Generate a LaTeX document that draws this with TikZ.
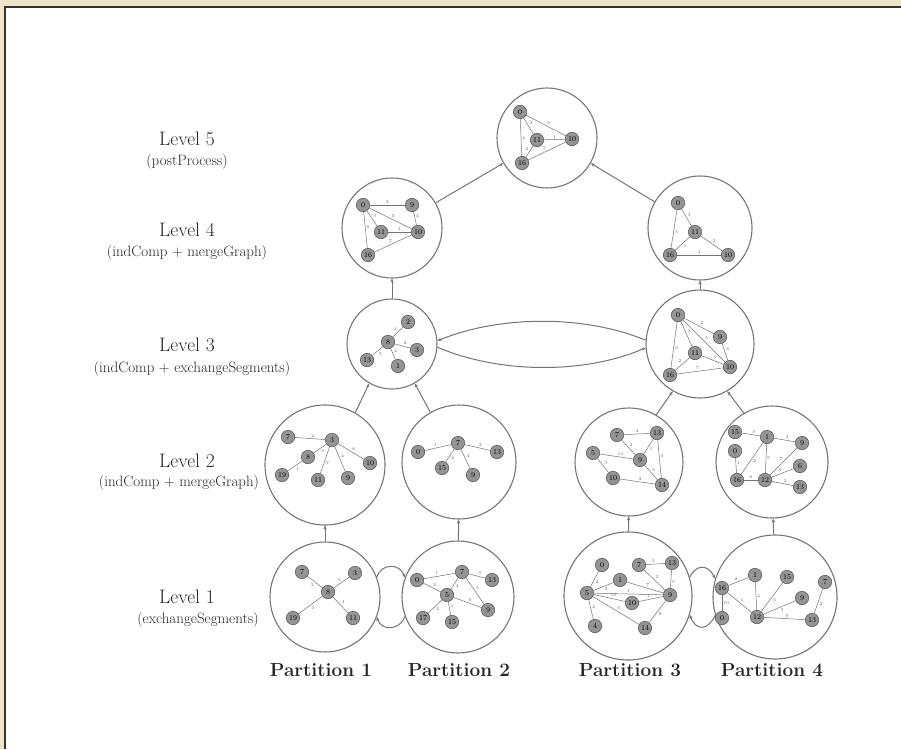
\documentclass[tikz,border=0pt]{standalone}
\usetikzlibrary{arrows.meta}
\definecolor{parch}{RGB}{238,227,203}
\definecolor{ringgray}{RGB}{118,118,118}
\tikzset{
  ring/.style={draw=ringgray,line width=1.1pt,circle,inner sep=0pt},
  vtx/.style={draw=black!75,fill=black!42,circle,inner sep=0pt,minimum size=13.5pt,font=\fontsize{7.5}{8}\selectfont,text=black},
  link/.style={draw=black!55,line width=0.5pt},
  wt/.style={font=\fontsize{4.5}{5}\selectfont,text=black!60,inner sep=0.8pt},
  conn/.style={draw=ringgray,line width=1pt,-{Stealth[length=4pt,width=3.5pt]}},
  lvl/.style={font=\fontsize{19.5}{21}\selectfont,text=black!85},
  lvlsub/.style={font=\fontsize{15}{17}\selectfont,text=black!85},
  part/.style={font=\fontsize{19}{21}\selectfont\bfseries,text=black!85}
}
\begin{document}
\begin{tikzpicture}[x=1pt,y=1pt,yscale=-1,xscale=1]
\useasboundingbox (0,0) rectangle (901,749);

%Shape: Rectangle (page and panel)
\fill[parch] (0,0) rectangle (901,749);
\fill[white] (5,7) rectangle (901,749);
\draw[black!80,line width=1.3pt] (5,749) -- (5,7) -- (901,7);

% Text Node
\node[lvl] (lab5) at (187,139) {Level 5};
\node[lvlsub] (sub5) at (187,162) {(postProcess)};
\node[lvl] (lab4) at (187,230) {Level 4};
\node[lvlsub] (sub4) at (187,253) {(indComp + mergeGraph)};
\node[lvl] (lab3) at (187,345) {Level 3};
\node[lvlsub] (sub3) at (192,369) {(indComp + exchangeSegments)};
\node[lvl] (lab2) at (187,461) {Level 2};
\node[lvlsub] (sub2) at (179,483) {(indComp + mergeGraph)};
\node[lvl] (lab1) at (187,597) {Level 1};
\node[lvlsub] (sub1) at (198,620) {(exchangeSegments)};

\node[part] (part1) at (321,670) {Partition 1};
\node[part] (part2) at (459,670) {Partition 2};
\node[part] (part3) at (630,670) {Partition 3};
\node[part] (part4) at (772,670) {Partition 4};

%Shape: Circle
\node[ring,minimum size=100] (e) at (547,138) {};
\node[ring,minimum size=100] (dL) at (392,228) {};
\node[ring,minimum size=104] (dR) at (700,228) {};
\node[ring,minimum size=90] (cL) at (392,344) {};
\node[ring,minimum size=108] (cR) at (700,344) {};
\node[ring,minimum size=120] (b1) at (325,465) {};
\node[ring,minimum size=114] (b2) at (459,462) {};
\node[ring,minimum size=108] (b3) at (629,462) {};
\node[ring,minimum size=112] (b4) at (772,462) {};
\node[ring,minimum size=110] (a1) at (325,597) {};
\node[ring,minimum size=112] (a2) at (458,597) {};
\node[ring,minimum size=128] (a3) at (628,596) {};
\node[ring,minimum size=124] (a4) at (775,597) {};

%Straight Lines
\draw[conn] (a1) -- (b1);
\draw[conn] (a2) -- (b2);
\draw[conn] (a3) -- (b3);
\draw[conn] (a4) -- (b4);
\draw[conn] (b1.60) -- (cL.240);
\draw[conn] (b2.120) -- (cL.300);
\draw[conn] (b3.60) -- (cR.240);
\draw[conn] (b4.120) -- (cR.300);
\draw[conn] (cL) -- (dL);
\draw[conn] (cR) -- (dR);
\draw[conn] (dL.30) -- (e.210);
\draw[conn] (dR.150) -- (e.330);

%Curve Lines
\draw[conn] (cR.176) .. controls (585,315) and (500,315) .. (cL.4);
\draw[conn] (cL.356) .. controls (500,374) and (585,374) .. (cR.184);
\draw[conn] (a1.21) .. controls (381,563) and (400,563) .. (a2.160);
\draw[conn] (a2.200) .. controls (400,631) and (381,631) .. (a1.339);
\draw[conn] (a3.17) .. controls (696,564) and (708,564) .. (a4.163);
\draw[conn] (a4.197) .. controls (708,631) and (696,631) .. (a3.343);

% Level 5 graph
\node[vtx] (e0) at (520,112) {0};
\node[vtx] (e11) at (537,140) {11};
\node[vtx] (e10) at (572,139) {10};
\node[vtx] (e16) at (522,163) {16};
\foreach \u/\v/\w in {e0/e11/3,e0/e10/2,e0/e16/4,e11/e10/1,e16/e10/5,e16/e11/2}
  \draw[link] (\u) -- node[wt,auto]{\w} (\v);

% Level 4 graphs
\node[vtx] (dL0) at (363,205) {0};
\node[vtx] (dL9) at (412,205) {9};
\node[vtx] (dL11) at (381,232) {11};
\node[vtx] (dL10) at (418,232) {10};
\node[vtx] (dL16) at (368,255) {16};
\foreach \u/\v/\w in {dL0/dL9/2,dL0/dL11/3,dL0/dL10/5,dL9/dL10/4,dL11/dL10/1,dL0/dL16/6,dL16/dL10/7}
  \draw[link] (\u) -- node[wt,auto]{\w} (\v);

\node[vtx] (dR0) at (678,203) {0};
\node[vtx] (dR11) at (695,232) {11};
\node[vtx] (dR16) at (670,255) {16};
\node[vtx] (dR10) at (728,255) {10};
\foreach \u/\v/\w in {dR0/dR16/5,dR0/dR11/3,dR11/dR10/2,dR16/dR10/4,dR11/dR16/1}
  \draw[link] (\u) -- node[wt,auto]{\w} (\v);

% Level 3 graphs
\node[vtx] (cL8) at (388,342) {8};
\node[vtx] (cL2) at (408,322) {2};
\node[vtx] (cL3) at (417,350) {3};
\node[vtx] (cL1) at (398,366) {1};
\node[vtx] (cL13) at (367,360) {13};
\foreach \u/\v/\w in {cL8/cL2/1,cL8/cL3/2,cL8/cL1/4,cL8/cL13/3}
  \draw[link] (\u) -- node[wt,auto]{\w} (\v);

\node[vtx] (cR0) at (678,315) {0};
\node[vtx] (cR9) at (720,337) {9};
\node[vtx] (cR11) at (695,353) {11};
\node[vtx] (cR10) at (730,367) {10};
\node[vtx] (cR16) at (670,375) {16};
\foreach \u/\v/\w in {cR0/cR9/2,cR0/cR10/5,cR0/cR16/6,cR0/cR11/3,cR9/cR10/4,cR11/cR10/1,cR16/cR10/7,cR16/cR11/2}
  \draw[link] (\u) -- node[wt,auto]{\w} (\v);

% Level 2 graphs
\node[vtx] (b1n7) at (288,437) {7};
\node[vtx] (b1n3) at (332,440) {3};
\node[vtx] (b1n8) at (308,457) {8};
\node[vtx] (b1n19) at (282,475) {19};
\node[vtx] (b1n11) at (318,480) {11};
\node[vtx] (b1n9) at (348,478) {9};
\node[vtx] (b1n10) at (370,463) {10};
\foreach \u/\v/\w in {b1n7/b1n3/2,b1n3/b1n8/5,b1n8/b1n19/1,b1n3/b1n11/7,b1n3/b1n9/4,b1n3/b1n10/6}
  \draw[link] (\u) -- node[wt,auto]{\w} (\v);

\node[vtx] (b2n0) at (418,452) {0};
\node[vtx] (b2n7) at (458,443) {7};
\node[vtx] (b2n13) at (497,452) {13};
\node[vtx] (b2n15) at (442,468) {15};
\node[vtx] (b2n9) at (473,475) {9};
\foreach \u/\v/\w in {b2n0/b2n7/1,b2n7/b2n13/3,b2n7/b2n15/2,b2n7/b2n9/4}
  \draw[link] (\u) -- node[wt,auto]{\w} (\v);

\node[vtx] (b3n7) at (617,435) {7};
\node[vtx] (b3n13) at (657,433) {13};
\node[vtx] (b3n5) at (593,453) {5};
\node[vtx] (b3n9) at (640,460) {9};
\node[vtx] (b3n10) at (613,478) {10};
\node[vtx] (b3n14) at (662,485) {14};
\foreach \u/\v/\w in {b3n7/b3n13/4,b3n7/b3n9/2,b3n13/b3n9/1,b3n13/b3n14/5,b3n5/b3n9/11,b3n5/b3n10/3,b3n10/b3n14/2,b3n9/b3n14/6}
  \draw[link] (\u) -- node[wt,auto]{\w} (\v);

\node[vtx] (b4n15) at (735,432) {15};
\node[vtx] (b4n0) at (735,451) {0};
\node[vtx] (b4n1) at (767,437) {1};
\node[vtx] (b4n9) at (802,443) {9};
\node[vtx] (b4n16) at (737,480) {16};
\node[vtx] (b4n12) at (765,480) {12};
\node[vtx] (b4n6) at (800,466) {6};
\node[vtx] (b4n13) at (800,487) {13};
\foreach \u/\v/\w in {b4n15/b4n1/3,b4n1/b4n9/4,b4n1/b4n16/2,b4n1/b4n12/5,b4n0/b4n16/1,b4n16/b4n12/6,b4n12/b4n9/7,b4n12/b4n6/3,b4n12/b4n13/2}
  \draw[link] (\u) -- node[wt,auto]{\w} (\v);

% Level 1 graphs
\node[vtx] (a1n7) at (302,572) {7};
\node[vtx] (a1n3) at (355,573) {3};
\node[vtx] (a1n8) at (328,592) {8};
\node[vtx] (a1n19) at (293,618) {19};
\node[vtx] (a1n11) at (353,618) {11};
\foreach \u/\v/\w in {a1n8/a1n7/2,a1n8/a1n3/3,a1n8/a1n19/1,a1n8/a1n11/4}
  \draw[link] (\u) -- node[wt,auto]{\w} (\v);

\node[vtx] (a2n0) at (417,580) {0};
\node[vtx] (a2n7) at (462,572) {7};
\node[vtx] (a2n13) at (492,580) {13};
\node[vtx] (a2n5) at (447,595) {5};
\node[vtx] (a2n17) at (423,618) {17};
\node[vtx] (a2n15) at (452,622) {15};
\node[vtx] (a2n9) at (488,610) {9};
\foreach \u/\v/\w in {a2n0/a2n7/1,a2n7/a2n13/3,a2n0/a2n5/2,a2n7/a2n5/4,a2n7/a2n9/5,a2n5/a2n9/6,a2n5/a2n17/2,a2n5/a2n15/1}
  \draw[link] (\u) -- node[wt,auto]{\w} (\v);

\node[vtx] (a3n0) at (602,565) {0};
\node[vtx] (a3n7) at (639,565) {7};
\node[vtx] (a3n13) at (672,563) {13};
\node[vtx] (a3n1) at (620,580) {1};
\node[vtx] (a3n5) at (587,593) {5};
\node[vtx] (a3n10) at (632,603) {10};
\node[vtx] (a3n9) at (670,595) {9};
\node[vtx] (a3n14) at (645,628) {14};
\node[vtx] (a3n4) at (595,626) {4};
\foreach \u/\v/\w in {a3n0/a3n5/2,a3n1/a3n5/3,a3n5/a3n10/10,a3n5/a3n9/1,a3n5/a3n14/6,a3n5/a3n4/4,a3n7/a3n13/3,a3n7/a3n9/2,a3n13/a3n9/5,a3n1/a3n9/7,a3n10/a3n9/1,a3n9/a3n14/8}
  \draw[link] (\u) -- node[wt,auto]{\w} (\v);

\node[vtx] (a4n16) at (722,588) {16};
\node[vtx] (a4n0) at (722,618) {0};
\node[vtx] (a4n1) at (755,575) {1};
\node[vtx] (a4n15) at (787,577) {15};
\node[vtx] (a4n9) at (802,598) {9};
\node[vtx] (a4n7) at (825,582) {7};
\node[vtx] (a4n12) at (757,617) {12};
\node[vtx] (a4n13) at (812,620) {13};
\foreach \u/\v/\w in {a4n16/a4n0/10,a4n16/a4n12/1,a4n16/a4n1/2,a4n1/a4n12/4,a4n15/a4n12/5,a4n9/a4n12/3,a4n12/a4n13/6,a4n7/a4n13/2}
  \draw[link] (\u) -- node[wt,auto]{\w} (\v);
\end{tikzpicture}
\end{document}
